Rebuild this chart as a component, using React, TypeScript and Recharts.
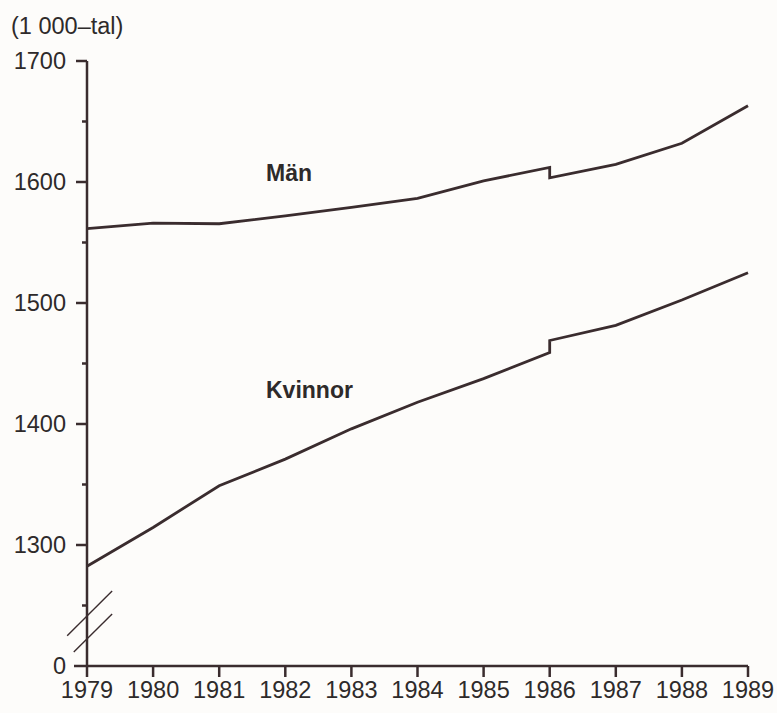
import React from "react";
import { LineChart, Line, XAxis, YAxis, ReferenceLine } from "recharts";

// years (1986 twice: break in the series)
const years = [1979, 1980, 1981, 1982, 1983, 1984, 1985, 1986, 1986, 1987, 1988, 1989];
const man = [1561.5, 1566, 1565.5, 1572, 1579, 1586.5, 1601, 1612, 1603.5, 1614.5, 1632, 1663];
const kvinnor = [1282.5, 1314.5, 1349, 1371, 1396, 1418, 1437.5, 1459, 1469, 1481.5, 1502.5, 1525];

const xTicks = [1979, 1980, 1981, 1982, 1983, 1984, 1985, 1986, 1987, 1988, 1989];
const yTicks = [1200, 1250, 1300, 1350, 1400, 1450, 1500, 1550, 1600, 1650, 1700];
const yLabels: Record<number, string> = { 1200: "0", 1300: "1300", 1400: "1400", 1500: "1500", 1600: "1600", 1700: "1700" };

const data = years.map((y, i) => ({ year: y, man: man[i], kvinnor: kvinnor[i] }));

const INK = "#3a2c2e";
const TEXT = "#2e2a2a";
const FONT = '"Liberation Sans", Arial, Helvetica, sans-serif';

// axis break marks (data coords)
const breakMarks = [
  [{ x: 1978.7, y: 1225 }, { x: 1979.38, y: 1262 }],
  [{ x: 1978.8, y: 1211.5 }, { x: 1979.38, y: 1243 }],
];

const YTick = (props: any) => {
  const { x, y, payload } = props;
  const v = payload.value;
  const label = yLabels[v];
  const len = v === 1200 ? 13 : label ? 11 : 5;
  return (
    <g>
      <line x1={x - len} x2={x} y1={y} y2={y} stroke={INK} strokeWidth={2.5} />
      {label && (
        <text x={x - 21} y={y} dy="0.36em" textAnchor="end" fontSize={23.5} fill={TEXT} fontFamily={FONT}>
          {label}
        </text>
      )}
    </g>
  );
};

const XTick = (props: any) => {
  const { x, y, payload } = props;
  return (
    <g>
      <line x1={x} x2={x} y1={y} y2={y + 11} stroke={INK} strokeWidth={2.5} />
      <text x={x} y={y + 32} textAnchor="middle" fontSize={23.5} fill={TEXT} fontFamily={FONT}>
        {payload.value}
      </text>
    </g>
  );
};

export default function App() {
  return (
    <div style={{ position: "absolute", left: 0, top: 0, width: 777, height: 713, background: "#fdfcfa" }}>
      <LineChart width={777} height={713} data={data} margin={{ top: 61, right: 29, bottom: 0, left: 0 }}>
        <XAxis
          dataKey="year"
          type="number"
          domain={[1979, 1989]}
          ticks={xTicks}
          height={47}
          tickSize={0}
          tickMargin={0}
          tickLine={false}
          axisLine={{ stroke: INK, strokeWidth: 2.5 }}
          tick={<XTick />}
          interval={0}
        />
        <YAxis
          type="number"
          domain={[1200, 1700]}
          ticks={yTicks}
          width={87}
          tickSize={0}
          tickMargin={0}
          tickLine={false}
          axisLine={{ stroke: INK, strokeWidth: 2.5 }}
          tick={<YTick />}
          interval={0}
        />
        {breakMarks.map((seg, i) => (
          <ReferenceLine key={i} segment={seg} stroke={INK} strokeWidth={1.4} ifOverflow="visible" />
        ))}
        <Line type="linear" dataKey="man" stroke={INK} strokeWidth={2.8} dot={false} isAnimationActive={false} />
        <Line type="linear" dataKey="kvinnor" stroke={INK} strokeWidth={2.8} dot={false} isAnimationActive={false} />
      </LineChart>
      <svg width={777} height={713} style={{ position: "absolute", left: 0, top: 0, pointerEvents: "none" }}>
        <text x={11} y={34} fontSize={23.5} fill={TEXT} fontFamily={FONT}>(1 000–tal)</text>
        <text x={266} y={181} fontSize={23} fontWeight="bold" fill={TEXT} fontFamily={FONT}>Män</text>
        <text x={266} y={398} fontSize={23} fontWeight="bold" fill={TEXT} fontFamily={FONT}>Kvinnor</text>
      </svg>
    </div>
  );
}
